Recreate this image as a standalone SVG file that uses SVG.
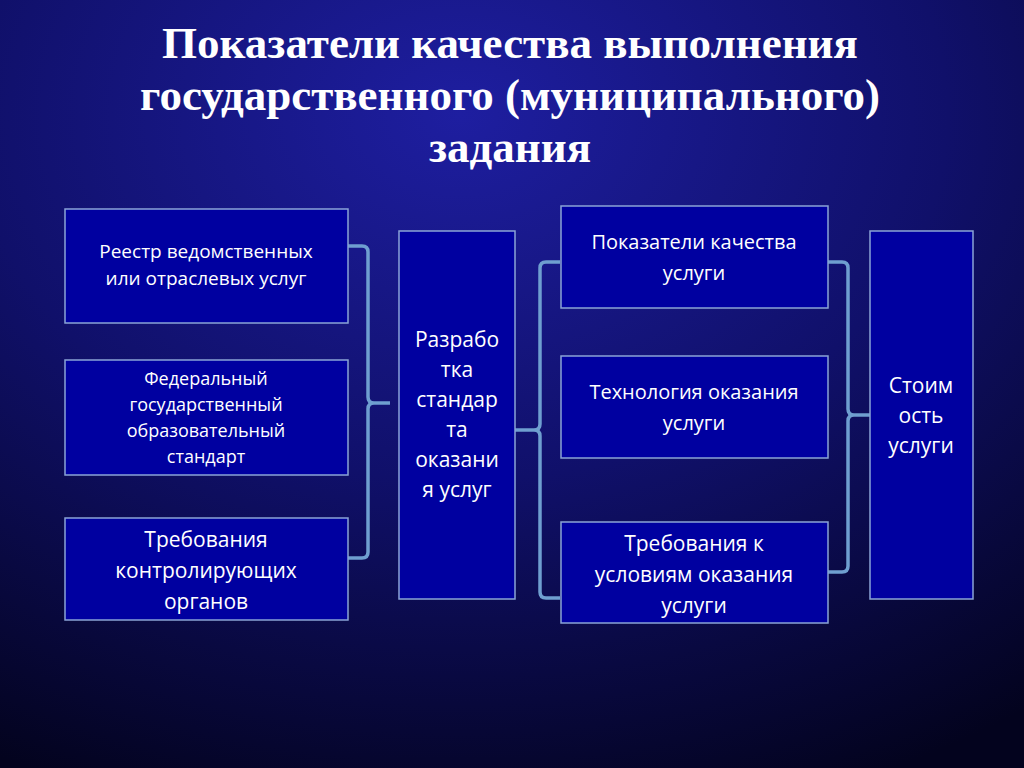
<svg xmlns="http://www.w3.org/2000/svg" width="1024" height="768" viewBox="0 0 1024 768">
<defs>
<radialGradient id="bg" cx="0.45" cy="0.15" r="0.95">
<stop offset="0" stop-color="#1e1ea0"/><stop offset="0.5" stop-color="#10106a"/><stop offset="1" stop-color="#03031e"/>
</radialGradient>
<style>
.b{fill:#0000a0;stroke:#8aa4d6;stroke-width:1.5}
.t{font-family:"Open Sans","DejaVu Sans",sans-serif;font-size:19px;fill:#fff;text-anchor:middle}
.h{font-family:"Liberation Serif",serif;font-weight:bold;font-size:45px;fill:#fff;text-anchor:middle}
.c{fill:none;stroke:#6f9fd0;stroke-width:3.5}
</style>
</defs>
<rect width="1024" height="768" fill="url(#bg)"/>
<g id="title"><text class="h"><tspan x="510" y="58">Показатели качества выполнения</tspan><tspan x="510" y="110">государственного (муниципального)</tspan><tspan x="510" y="162">задания</tspan></text></g>
<g id="connectors">
<path class="c" d="M348 246 H362 Q368 246 368 252 V397 Q368 403 374 403 H390 M374 403 Q368 403 368 409 V552 Q368 558 362 558 H348"/>
<path class="c" d="M560 262 H546 Q540 262 540 268 V424 Q540 430 534 430 H515 M534 430 Q540 430 540 436 V592 Q540 598 546 598 H560"/>
<path class="c" d="M828 262 H842 Q848 262 848 268 V409 Q848 415 854 415 H870 M854 415 Q848 415 848 421 V566 Q848 572 842 572 H828"/>
</g>
<g id="n1"><rect class="b" x="65" y="209" width="283" height="114"/><text class="t"><tspan x="206" y="258">Реестр ведомственных</tspan><tspan x="206" y="285">или отраслевых услуг</tspan></text></g>
<g id="n2"><rect class="b" x="65" y="360" width="283" height="115"/><text class="t" style="font-size:18px"><tspan x="206" y="385">Федеральный</tspan><tspan x="206" y="411">государственный</tspan><tspan x="206" y="437">образовательный</tspan><tspan x="206" y="463">стандарт</tspan></text></g>
<g id="n3"><rect class="b" x="65" y="518" width="283" height="102"/><text class="t" style="font-size:21px"><tspan x="206" y="547">Требования</tspan><tspan x="206" y="578">контролирующих</tspan><tspan x="206" y="609">органов</tspan></text></g>
<g id="n4"><rect class="b" x="399" y="231" width="116" height="368"/><text class="t" style="font-size:21px"><tspan x="457" y="347">Разрабо</tspan><tspan x="457" y="377">тка</tspan><tspan x="457" y="407">стандар</tspan><tspan x="457" y="437">та</tspan><tspan x="457" y="467">оказани</tspan><tspan x="457" y="497">я  услуг</tspan></text></g>
<g id="n5"><rect class="b" x="561" y="206" width="267" height="102"/><text class="t" style="font-size:20px"><tspan x="694" y="249">Показатели качества</tspan><tspan x="694" y="280">услуги</tspan></text></g>
<g id="n6"><rect class="b" x="561" y="356" width="267" height="102"/><text class="t" style="font-size:20px"><tspan x="694" y="399">Технология оказания</tspan><tspan x="694" y="430">услуги</tspan></text></g>
<g id="n7"><rect class="b" x="561" y="522" width="267" height="101"/><text class="t" style="font-size:21px"><tspan x="694" y="551">Требования к</tspan><tspan x="694" y="582">условиям оказания</tspan><tspan x="694" y="613">услуги</tspan></text></g>
<g id="n8"><rect class="b" x="870" y="231" width="103" height="368"/><text class="t" style="font-size:21px"><tspan x="921" y="393">Стоим</tspan><tspan x="921" y="423">ость</tspan><tspan x="921" y="453">услуги</tspan></text></g>
</svg>
